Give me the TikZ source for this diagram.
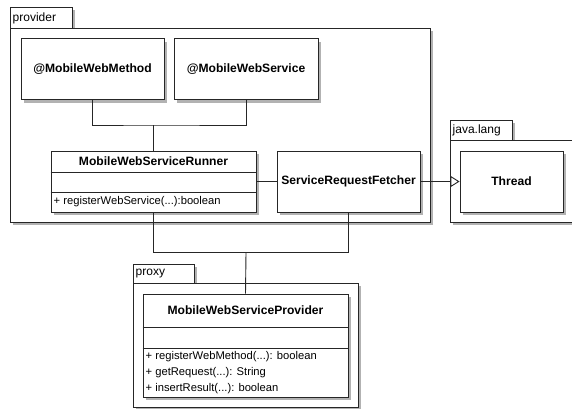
\documentclass[tikz,border=0pt]{standalone}
\usepackage{fontspec}
\setmainfont{Liberation Sans}
\usetikzlibrary{shadows,arrows.meta}
\tikzset{
  shade box/.style={drop shadow={shadow xshift=3bp, shadow yshift=-3bp, fill=black!30, opacity=1}},
  umlbox/.style={draw=black!85, line width=0.9bp, fill=white, shade box, inner sep=0pt, rectangle},
  pkgpart/.style={draw=black!85, line width=0.9bp, fill=white, shade box},
  pkglabel/.style={anchor=west, inner sep=0pt, font=\fontsize{12bp}{14bp}\selectfont},
  classname/.style={inner sep=0pt, font=\fontsize{12.1bp}{14bp}\selectfont\bfseries},
  member/.style={anchor=west, inner sep=0pt, font=\fontsize{11.2bp}{13bp}\selectfont},
  wire/.style={draw=black!85, line width=0.9bp},
}
\begin{document}
\begin{tikzpicture}[x=1bp, y=-1bp]
\useasboundingbox (0,0) rectangle (572,408);

% package provider
\path[pkgpart] (10,7) rectangle (72,28);
\path[pkgpart] (10,28) rectangle (430,222);
\node[pkglabel] (lprov) at (12.5,18) {provider};

% package java.lang
\path[pkgpart] (450,120) rectangle (512,140);
\path[pkgpart] (450,140) rectangle (590,222);
\node[pkglabel] (ljava) at (452.5,130.5) {java.lang};

% package proxy
\path[pkgpart] (133,264) rectangle (194,283);
\path[pkgpart] (133,283) rectangle (358,407);
\node[pkglabel] (lproxy) at (135.5,273.5) {proxy};

% annotation types
\node[umlbox, minimum width=143bp, minimum height=61bp, classname] (mwm) at (92.5,69) {@MobileWebMethod};
\node[umlbox, minimum width=144bp, minimum height=61bp, classname] (mws) at (246,69) {@MobileWebService};

% runner class
\node[umlbox, minimum width=205bp, minimum height=61bp] (mwsr) at (153.5,181.5) {};
\draw[wire] (mwsr.west |- 0,172) -- (mwsr.east |- 0,172);
\draw[wire] (mwsr.west |- 0,192) -- (mwsr.east |- 0,192);
\node[classname] (mwsrname) at (153.5,161.5) {MobileWebServiceRunner};
\node[member] (mwsrm1) at (53.5,202) {+ registerWebService(...):boolean};

% fetcher and thread
\node[umlbox, minimum width=143bp, minimum height=61bp, classname] (srf) at (348.5,181.5) {ServiceRequestFetcher};
\node[umlbox, minimum width=103bp, minimum height=61bp, classname] (thread) at (511.5,181.5) {Thread};

% provider class
\node[umlbox, minimum width=205bp, minimum height=103bp] (mwsp) at (245.5,345.5) {};
\draw[wire] (mwsp.west |- 0,327) -- (mwsp.east |- 0,327);
\draw[wire] (mwsp.west |- 0,348) -- (mwsp.east |- 0,348);
\node[classname] (mwspname) at (245.5,310.5) {MobileWebServiceProvider};
\node[member] (mwspm1) at (145.5,357) {+ registerWebMethod(...): boolean};
\node[member] (mwspm2) at (145.5,373) {+ getRequest(...): String};
\node[member] (mwspm3) at (145.5,388.5) {+ insertResult(...): boolean};

% connectors
\coordinate (jtop) at (153.5,125);
\coordinate (jbot) at (246,252.5);
\draw[wire] (mwm.south) |- (jtop) -| (mws.south);
\draw[wire] (jtop) -- (mwsr.north);
\draw[wire] (mwsr.east) -- (srf.west);
\draw[wire, -{Triangle[open, length=9bp, width=11bp]}] (srf.east) -- (thread.west);
\draw[wire] (mwsr.south) |- (jbot) -| (srf.south);
\draw[wire] (jbot) -- (mwsp.north);
\end{tikzpicture}
\end{document}
